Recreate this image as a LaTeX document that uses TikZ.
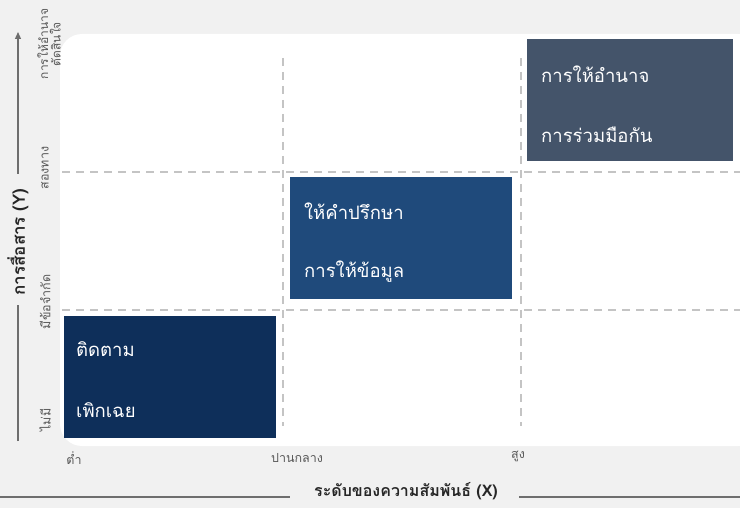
\documentclass[tikz,border=0pt]{standalone}
\usepackage{fontspec}
\newfontfamily\thaifont[Script=Thai]{Loma}
\usetikzlibrary{arrows.meta}
\definecolor{bgray}{HTML}{F1F1F1}
\definecolor{dashc}{HTML}{C4C4C4}
\definecolor{boxA}{HTML}{0E2F5A}
\definecolor{boxB}{HTML}{1F4A7B}
\definecolor{boxC}{HTML}{44546A}
\definecolor{axisc}{HTML}{6E6E6E}
\definecolor{tickc}{HTML}{595959}
\definecolor{titlec}{HTML}{262626}
\tikzset{
  grid/.style={dashc, line width=1.6pt, dash pattern=on 8pt off 6pt},
  boxtext/.style={anchor=west, text=white, font=\thaifont\fontsize{18.5}{20}\selectfont, inner sep=0pt},
  ticklabel/.style={text=tickc, font=\thaifont\fontsize{12.5}{14}\selectfont, inner sep=1pt},
  axtitle/.style={text=titlec, font=\thaifont\bfseries\fontsize{16}{18}\selectfont, inner sep=2pt},
  axline/.style={axisc, line width=1.2pt}
}
\begin{document}
\begin{tikzpicture}[x=1pt,y=-1pt]
\fill[bgray] (0,0) rectangle (740,508);
\useasboundingbox (0,0) rectangle (740,508);
% white panel
\fill[white, rounded corners=22pt] (60,34) rectangle (760,446);
% grid
\draw[grid] (283,58) -- (283,426);
\draw[grid] (521,58) -- (521,426);
\draw[grid] (62,172) -- (740,172);
\draw[grid] (62,310) -- (740,310);
% quadrant boxes
\fill[boxA] (64,316) rectangle (276,438);
\fill[boxB] (290,177) rectangle (512,299);
\fill[boxC] (527,39) rectangle (733,161);
\node[boxtext] (a1) at (76,349) {ติดตาม};
\node[boxtext] (a2) at (76,410) {เพิกเฉย};
\node[boxtext] (b1) at (304,211) {ให้คำปรึกษา};
\node[boxtext] (b2) at (304,272) {การให้ข้อมูล};
\node[boxtext] (c1) at (541,74) {การให้อำนาจ};
\node[boxtext] (c2) at (541,135) {การร่วมมือกัน};
% x ticks
\node[ticklabel] (xl) at (74,458) {ต่ำ};
\node[ticklabel] (xm) at (297,458) {ปานกลาง};
\node[ticklabel] (xh) at (518,456) {สูง};
% y ticks
\node[ticklabel, rotate=90] (y0) at (45,420) {ไม่มี};
\node[ticklabel, rotate=90] (y1) at (45,302) {มีข้อจำกัด};
\node[ticklabel, rotate=90] (y2) at (45,168) {สองทาง};
\node[ticklabel, rotate=90, align=center, font=\thaifont\fontsize{12}{12.5}\selectfont] (y3) at (49,44) {การให้อำนาจ\\ตัดสินใจ};
% axis titles
\node[axtitle] (xt) at (406,491) {ระดับของความสัมพันธ์ (X)};
\node[axtitle, rotate=90, font=\thaifont\bfseries\fontsize{17}{19}\selectfont] (yt) at (18,242) {การสื่อสาร (Y)};
\coordinate (xa) at (0,497);
\coordinate (xa2) at (290,497);
\coordinate (xb2) at (519,497);
\coordinate (xb) at (740,497);
\coordinate (ya) at (18,441);
\coordinate (ya2) at (18,305);
\coordinate (yb2) at (18,174);
\coordinate (yb) at (18,32);
\draw[axline] (xa) -- (xa2);
\draw[axline] (xb2) -- (xb);
\draw[axline] (ya) -- (ya2);
\draw[axline, -{Triangle[length=7pt,width=6pt]}] (yb2) -- (yb);
\end{tikzpicture}
\end{document}
